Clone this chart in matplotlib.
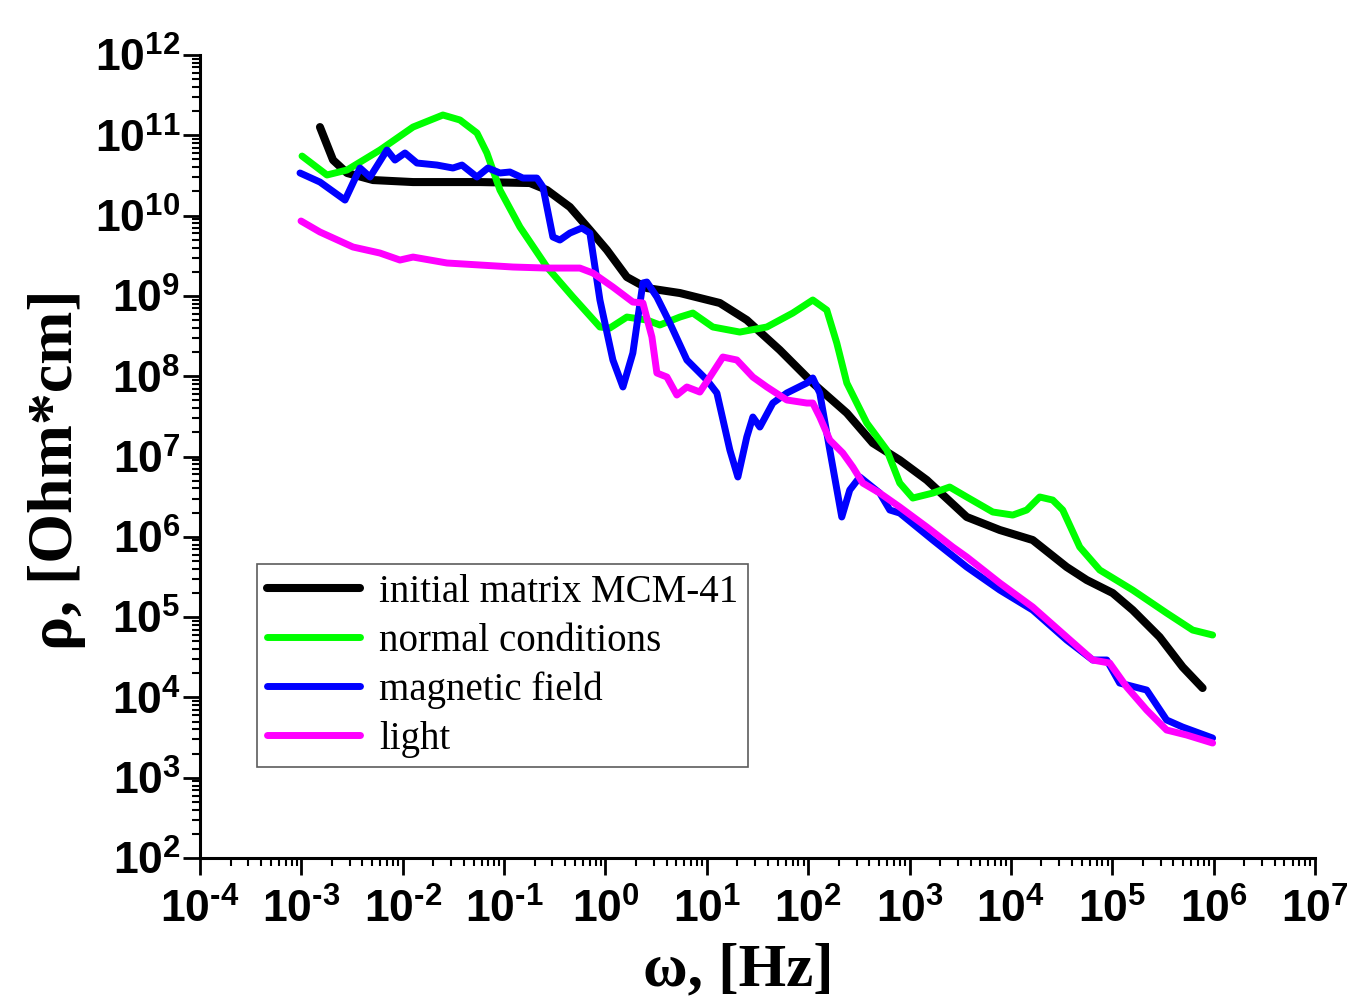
import matplotlib

matplotlib.use("Agg")

import matplotlib.pyplot as plt
import matplotlib.ticker as mticker
import numpy as np

plt.rcParams["mathtext.fontset"] = "custom"
plt.rcParams["mathtext.rm"] = "Liberation Sans:bold"
plt.rcParams["mathtext.bf"] = "Liberation Sans:bold"
plt.rcParams["mathtext.it"] = "Liberation Sans:bold"

# values, stored as log10(omega) and log10(rho)
black_lw = [-2.817, -2.688, -2.550, -2.294, -1.899, -1.239, -0.746, -0.578, -0.351, -0.154,
            0.014, 0.211, 0.408, 0.734, 1.128, 1.394, 1.720, 2.045, 2.381, 2.637,
            2.903, 3.170, 3.564, 3.890, 4.215, 4.550, 4.748, 5.004, 5.201, 5.467,
            5.694, 5.891]
black_lr = [11.103, 10.692, 10.531, 10.443, 10.418, 10.418, 10.406, 10.319, 10.107, 9.821,
            9.572, 9.235, 9.098, 9.036, 8.912, 8.700, 8.326, 7.915, 7.542, 7.168,
            6.956, 6.707, 6.247, 6.085, 5.960, 5.624, 5.462, 5.300, 5.088, 4.752,
            4.379, 4.117]

green_lw = [-2.994, -2.748, -2.550, -2.225, -1.899, -1.604, -1.436, -1.268, -1.170, -1.041,
            -0.844, -0.578, -0.321, -0.055, 0.043, 0.211, 0.408, 0.536, 0.734, 0.862,
            1.059, 1.325, 1.592, 1.848, 2.045, 2.183, 2.282, 2.381, 2.578, 2.775,
            2.903, 3.032, 3.229, 3.396, 3.564, 3.821, 4.018, 4.156, 4.284, 4.412,
            4.511, 4.679, 4.876, 5.201, 5.536, 5.793, 5.990]
green_lr = [10.742, 10.506, 10.568, 10.817, 11.103, 11.253, 11.191, 11.029, 10.780, 10.319,
            9.858, 9.360, 8.986, 8.613, 8.600, 8.737, 8.700, 8.638, 8.737, 8.787,
            8.613, 8.550, 8.613, 8.787, 8.949, 8.824, 8.413, 7.915, 7.417, 7.081,
            6.670, 6.483, 6.545, 6.620, 6.496, 6.309, 6.271, 6.334, 6.496, 6.458,
            6.334, 5.873, 5.587, 5.337, 5.051, 4.839, 4.777]

blue_lw = [-3.014, -2.817, -2.570, -2.422, -2.323, -2.156, -2.077, -1.978, -1.860, -1.663,
           -1.505, -1.416, -1.268, -1.160, -1.041, -0.943, -0.815, -0.677, -0.617, -0.519,
           -0.450, -0.351, -0.233, -0.154, -0.055, 0.073, 0.172, 0.270, 0.369, 0.408,
           0.507, 0.635, 0.803, 1.000, 1.099, 1.227, 1.306, 1.394, 1.454, 1.523,
           1.651, 1.789, 1.986, 2.045, 2.114, 2.213, 2.331, 2.410, 2.509, 2.706,
           2.805, 2.903, 3.229, 3.564, 3.890, 4.215, 4.550, 4.807, 4.945, 5.073,
           5.339, 5.536, 5.694, 5.990]
blue_lr = [10.531, 10.418, 10.194, 10.593, 10.481, 10.817, 10.692, 10.780, 10.655, 10.630,
           10.593, 10.630, 10.481, 10.593, 10.531, 10.543, 10.468, 10.468, 10.356, 9.734,
           9.696, 9.783, 9.846, 9.783, 8.949, 8.202, 7.866, 8.289, 9.161, 9.173,
           8.986, 8.662, 8.202, 7.953, 7.791, 7.081, 6.745, 7.243, 7.492, 7.367,
           7.666, 7.791, 7.915, 7.978, 7.791, 7.081, 6.247, 6.583, 6.745, 6.545,
           6.334, 6.296, 5.960, 5.624, 5.337, 5.088, 4.715, 4.466, 4.466, 4.179,
           4.092, 3.719, 3.631, 3.494]

magenta_lw = [-3.004, -2.817, -2.491, -2.225, -2.028, -1.899, -1.564, -1.239, -0.913, -0.578,
              -0.253, -0.124, 0.073, 0.270, 0.369, 0.458, 0.507, 0.606, 0.704, 0.803,
              0.931, 1.030, 1.158, 1.296, 1.454, 1.592, 1.789, 1.986, 2.045, 2.114,
              2.213, 2.341, 2.440, 2.538, 2.706, 2.903, 3.170, 3.426, 3.564, 3.890,
              4.215, 4.550, 4.807, 4.974, 5.142, 5.339, 5.536, 5.733, 5.990]
magenta_lr = [9.933, 9.796, 9.609, 9.534, 9.447, 9.484, 9.410, 9.385, 9.360, 9.347,
              9.347, 9.285, 9.111, 8.924, 8.912, 8.488, 8.040, 7.990, 7.766, 7.866,
              7.803, 7.990, 8.239, 8.202, 7.990, 7.866, 7.704, 7.666, 7.666, 7.492,
              7.205, 7.044, 6.869, 6.670, 6.545, 6.371, 6.122, 5.873, 5.749, 5.425,
              5.126, 4.752, 4.466, 4.428, 4.130, 3.843, 3.594, 3.532, 3.432]

series = [
    ("initial matrix MCM-41", black_lw, black_lr, "#000000", 5.8),
    ("normal conditions", green_lw, green_lr, "#00FF00", 5.0),
    ("magnetic field", blue_lw, blue_lr, "#0000FF", 5.0),
    ("light", magenta_lw, magenta_lr, "#FF00FF", 5.0),
]


def pow_label(val, _):
    if val <= 0:
        return ""
    exp = int(round(np.log10(val)))
    if exp < 0:
        return rf"$\mathbf{{10^{{\text{{-}}{-exp}}}}}$"
    return rf"$\mathbf{{10^{{{exp}}}}}$"


fig = plt.figure(figsize=(13.49, 10.06), dpi=100)
ax = fig.add_axes([0.1483, 0.1471, 0.8265, 0.7982])

for name, lw, lr, color, width in series:
    ax.plot(10.0 ** np.array(lw), 10.0 ** np.array(lr), color=color, lw=width,
            solid_capstyle="round", solid_joinstyle="round", label=name)

ax.set_xscale("log")
ax.set_yscale("log")
ax.set_xlim(1e-4, 1e7)
ax.set_ylim(1e2, 1e12)

ax.spines["top"].set_visible(False)
ax.spines["right"].set_visible(False)
for side in ("left", "bottom"):
    ax.spines[side].set_linewidth(2.2)

ax.xaxis.set_major_locator(mticker.LogLocator(base=10, numticks=20))
ax.yaxis.set_major_locator(mticker.LogLocator(base=10, numticks=20))
ax.xaxis.set_minor_locator(mticker.LogLocator(base=10, subs=np.arange(2, 10), numticks=200))
ax.yaxis.set_minor_locator(mticker.LogLocator(base=10, subs=np.arange(2, 10), numticks=200))
ax.xaxis.set_minor_formatter(mticker.NullFormatter())
ax.yaxis.set_minor_formatter(mticker.NullFormatter())
ax.xaxis.set_major_formatter(mticker.FuncFormatter(pow_label))
ax.yaxis.set_major_formatter(mticker.FuncFormatter(pow_label))

ax.tick_params(which="major", direction="out", length=12, width=2.0, labelsize=32)
ax.tick_params(which="minor", direction="out", length=6, width=1.5)
ax.tick_params(axis="x", which="major", pad=10)
ax.tick_params(axis="y", which="major", pad=2)

ax.set_xlabel(r"ω, [Hz]", fontfamily="Liberation Serif", fontweight="bold", fontsize=44)
ax.set_ylabel(r"ρ, [Ohm*cm]", fontfamily="Liberation Serif", fontweight="bold", fontsize=46)
ax.xaxis.set_label_coords(0.4825, -0.105)
ax.yaxis.set_label_coords(-0.102, 0.483)

leg = ax.legend(loc="lower left", bbox_to_anchor=(0.051, 0.113), borderaxespad=0,
                prop={"family": "Liberation Serif", "size": 28},
                frameon=True, fancybox=False, handlelength=2.4, handletextpad=0.5,
                borderpad=0.25, labelspacing=0.3)
leg.get_frame().set_edgecolor("#333333")
leg.get_frame().set_linewidth(1.2)

fig.savefig("out.png", dpi=100)
